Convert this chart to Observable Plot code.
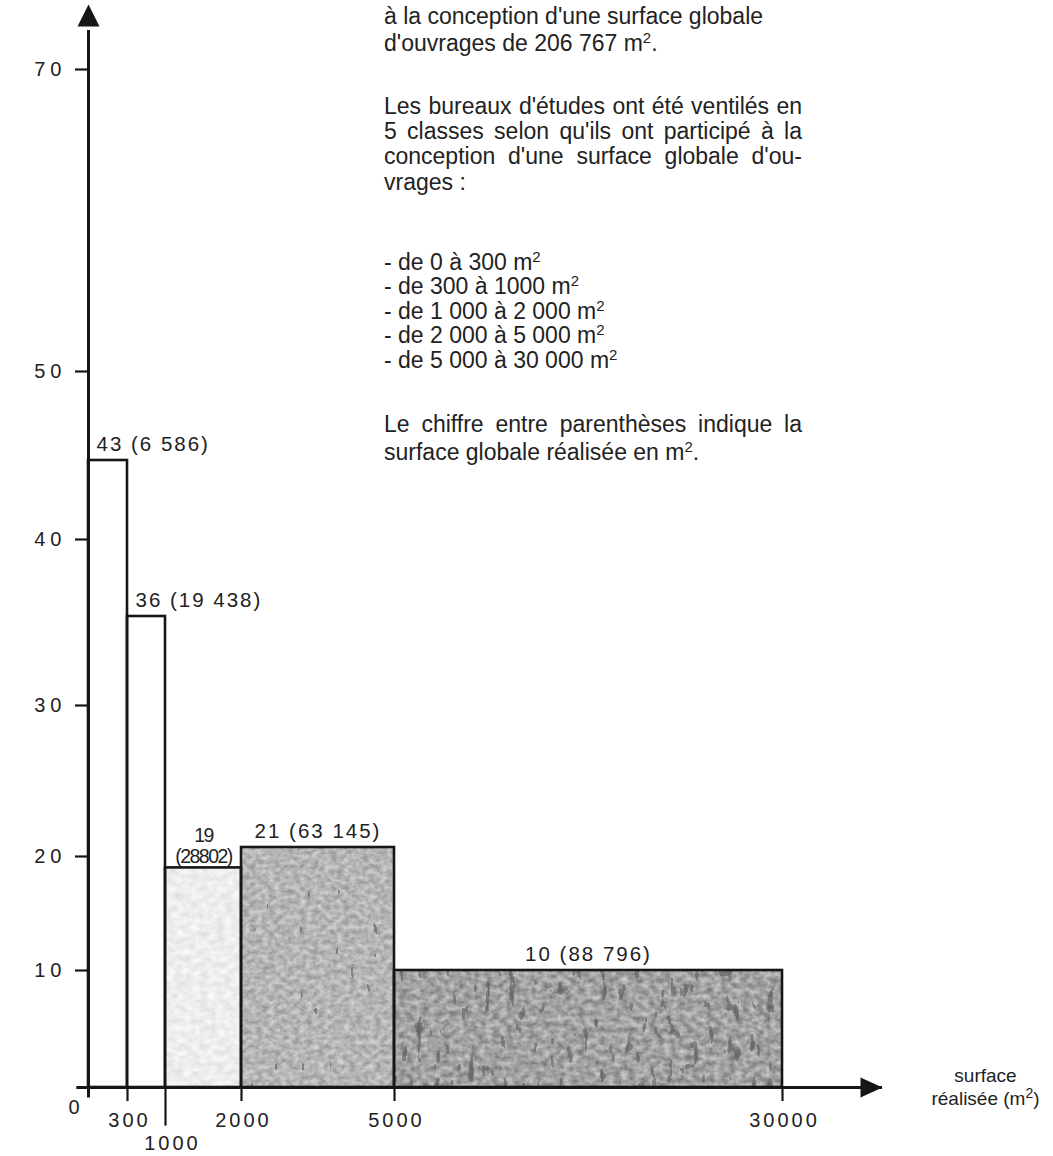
<!DOCTYPE html>
<html>
<head>
<meta charset="utf-8">
<script src="https://cdn.jsdelivr.net/npm/d3@7"></script>
<script src="https://cdn.jsdelivr.net/npm/@observablehq/plot@0.6"></script>
<style>
  html, body { margin: 0; padding: 0; background: #fff; }
  #wrap { position: relative; width: 1053px; height: 1156px; overflow: hidden;
          font-family: "Liberation Sans", Arial, Helvetica, sans-serif; color: #222; }
  #chart { position: absolute; left: 0; top: 0; }
  #notes { position: absolute; left: 384px; top: 0; width: 418px; font-size: 23px; }
  .ln { position: absolute; left: 0; width: 418px; line-height: 23px; white-space: nowrap; }
  .ln.j { text-align: justify; text-align-last: justify; white-space: normal; }
  .sup { font-size: 15px; position: relative; top: -8px; line-height: 0; }
  g.ytl text { letter-spacing: 5px; }
  g.xtl text { letter-spacing: 3px; }
  g.lbl text { letter-spacing: 2px; }
  g.lbl-tight text { letter-spacing: -1.5px; }
</style>
</head>
<body>
<div id="wrap">
  <div id="chart"></div>
  <div id="notes"></div>
</div>
<script>
// ---------- data ----------
const classStart = [0, 300, 1000, 2000, 5000];
const classEnd   = [300, 1000, 2000, 5000, 30000];
const counts     = [43, 36, 19, 21, 10];
const surfaces   = ["6 586", "19 438", "28802", "63 145", "88 796"];
const xTicks     = [0, 300, 1000, 2000, 5000, 30000];
const yTicks     = [10, 20, 30, 40, 50, 70];
const xTitle     = "surface\nréalisée (m²)";

const notesIntro  = ["à la conception d'une surface globale", "d'ouvrages de 206 767 m²."];
const notesMethod = ["Les bureaux d'études ont été ventilés en",
                     "5 classes selon qu'ils ont participé à la",
                     "conception d'une surface globale d'ou-",
                     "vrages :"];
const classLabels = ["- de 0 à 300 m²", "- de 300 à 1000 m²", "- de 1 000 à 2 000 m²",
                     "- de 2 000 à 5 000 m²", "- de 5 000 à 30 000 m²"];
const notesFoot   = ["Le chiffre entre parenthèses indique la", "surface globale réalisée en m²."];

// ---------- styles / layout (not data) ----------
const shades   = ["#ffffff", "#ffffff", "#ececec", "#b5b5b5", "#a4a4a4"];
const textures = [null, null, "tex-light", "tex-mid", "tex-dark"];
const axisEndX = 40000, axisEndY = 75;

const bars = counts.map((c, i) => ({
  start: classStart[i], end: classEnd[i], count: c,
  label: i === 2 ? `${c}\n(${surfaces[i]})` : `${c} (${surfaces[i]})`,
  left: i < 2, tight: i === 2
}));

// hand-drawn, non-uniform axes of the original: piecewise-linear scales
const xScale = {type: "linear", domain: [...xTicks, axisEndX], range: [88, 127, 165, 241, 394, 782, 882], axis: null};
const yScale = {type: "linear", domain: [0, 10, 20, 21, 30, 36, 40, 43, 50, 70, axisEndY],
                range: [1087, 970, 856, 847, 705, 616, 539, 460, 371, 69, 4], axis: null};

const arrowUp = {draw(ctx) { ctx.moveTo(0, 0); ctx.lineTo(11, 22); ctx.lineTo(-11, 22); ctx.closePath(); }};
const arrowRight = {draw(ctx) { ctx.moveTo(0, 0); ctx.lineTo(-22, -10); ctx.lineTo(-22, 10); ctx.closePath(); }};
const ink = "#161616";

const chart = Plot.plot({
  width: 1053, height: 1156,
  marginTop: 0, marginRight: 0, marginBottom: 0, marginLeft: 0,
  x: xScale, y: yScale,
  color: {type: "identity"},
  style: {fontFamily: '"Liberation Sans", Arial, Helvetica, sans-serif', background: "transparent", color: "#222", overflow: "visible"},
  marks: [
    // bar fills
    Plot.rect(bars, {x1: "start", x2: "end", y1: 0, y2: "count", fill: (d, i) => shades[i], className: "barfill"}),
    // bar outlines
    Plot.rect(bars, {x1: "start", x2: "end", y1: 0, y2: "count", fill: "none", stroke: ink, strokeWidth: 2.6}),
    // axes lines
    Plot.ruleY([0], {x1: -90, x2: axisEndX, stroke: ink, strokeWidth: 3}),
    Plot.ruleX([0], {y1: -0.9, y2: 73, stroke: ink, strokeWidth: 3}),
    // ticks
    Plot.ruleY(yTicks, {y: d => d, x1: -100, x2: 0, stroke: ink, strokeWidth: 2.2}),
    Plot.ruleX(xTicks.filter(d => d !== 0), {x: d => d, y1: 0, y2: d => d === 1000 ? -3.3 : -1.2, stroke: ink, strokeWidth: 2.2}),
    // arrow heads
    Plot.dot([{x: 0, y: axisEndY}], {x: "x", y: "y", symbol: arrowUp, r: 10, fill: ink, stroke: "none"}),
    Plot.dot([{x: axisEndX, y: 0}], {x: "x", y: "y", symbol: arrowRight, r: 10, fill: ink, stroke: "none"}),
    // tick labels
    Plot.text(yTicks, {x: 0, y: d => d, dx: -22, text: d => String(d), textAnchor: "end", fontSize: 20, fill: "#222", className: "ytl"}),
    Plot.text(xTicks.filter(d => d !== 0 && d !== 1000), {x: d => d, y: 0, dx: 2, dy: 33, text: d => String(d), fontSize: 20, fill: "#222", className: "xtl"}),
    Plot.text(xTicks.filter(d => d === 1000), {x: d => d, y: 0, dx: 7, dy: 56, text: d => String(d), fontSize: 20, fill: "#222", className: "xtl"}),
    Plot.text(xTicks.filter(d => d === 0), {x: d => d, y: 0, dx: -13, dy: 20, text: d => String(d), fontSize: 20, fill: "#222", className: "xtl"}),
    // x title
    Plot.text([xTitle], {x: axisEndX, y: 0, dx: 103, dy: -1, text: d => d, fontSize: 19, lineHeight: 1.2, fill: "#222", className: "xtitle"}),
    // bar labels
    Plot.text(bars.filter(d => d.left), {x: "start", y: "count", dx: 8, dy: -10, text: "label", textAnchor: "start", lineAnchor: "bottom", fontSize: 20.5, fill: "#222", className: "lbl"}),
    Plot.text(bars.filter(d => !d.left && !d.tight), {x: d => (d.start + d.end) / 2, y: "count", dy: -10, text: "label", lineAnchor: "bottom", fontSize: 20.5, fill: "#222", className: "lbl"}),
    Plot.text(bars.filter(d => d.tight), {x: d => (d.start + d.end) / 2, y: "count", dy: -5, text: "label", lineAnchor: "bottom", lineHeight: 1.05, fontSize: 19.5, fill: "#222", className: "lbl-tight"})
  ]
});

// scanned-paper textures for the shaded bars
chart.insertAdjacentHTML("afterbegin", `
<defs>
  <filter id="tex-light" x="0" y="0" width="1" height="1" color-interpolation-filters="sRGB">
    <feTurbulence type="fractalNoise" baseFrequency="0.12 0.16" numOctaves="2" seed="11" result="n"/>
    <feColorMatrix in="n" type="matrix" values="0.16 0 0 0 0.85  0.16 0 0 0 0.85  0.16 0 0 0 0.85  0 0 0 0 1" result="g"/>
    <feComposite in="g" in2="SourceGraphic" operator="in"/>
  </filter>
  <filter id="tex-mid" x="0" y="0" width="1" height="1" color-interpolation-filters="sRGB">
    <feTurbulence type="fractalNoise" baseFrequency="0.16 0.2" numOctaves="2" seed="5" result="n"/>
    <feColorMatrix in="n" type="matrix" values="0.36 0 0 0 0.53  0.36 0 0 0 0.53  0.36 0 0 0 0.53  0 0 0 0 1" result="g"/>
    <feTurbulence type="fractalNoise" baseFrequency="0.14 0.05" numOctaves="2" seed="17" result="s"/>
    <feColorMatrix in="s" type="matrix" values="0 0 0 0 0.42  0 0 0 0 0.42  0 0 0 0 0.42  1.3 0 0 0 -0.15" result="sa"/>
    <feComponentTransfer in="sa" result="spk"><feFuncA type="discrete" tableValues="0 0 0 0 0 0 0 0.75"/></feComponentTransfer>
    <feMerge result="m"><feMergeNode in="g"/><feMergeNode in="spk"/></feMerge>
    <feComposite in="m" in2="SourceGraphic" operator="in"/>
  </filter>
  <filter id="tex-dark" x="0" y="0" width="1" height="1" color-interpolation-filters="sRGB">
    <feTurbulence type="fractalNoise" baseFrequency="0.14 0.18" numOctaves="2" seed="23" result="n"/>
    <feColorMatrix in="n" type="matrix" values="0.45 0 0 0 0.41  0.45 0 0 0 0.41  0.45 0 0 0 0.41  0 0 0 0 1" result="g"/>
    <feTurbulence type="fractalNoise" baseFrequency="0.12 0.05" numOctaves="2" seed="31" result="s"/>
    <feColorMatrix in="s" type="matrix" values="0 0 0 0 0.38  0 0 0 0 0.38  0 0 0 0 0.38  1.3 0 0 0 -0.12" result="sa"/>
    <feComponentTransfer in="sa" result="spk"><feFuncA type="discrete" tableValues="0 0 0 0 0 0 0.6 0.85"/></feComponentTransfer>
    <feMerge result="m"><feMergeNode in="g"/><feMergeNode in="spk"/></feMerge>
    <feComposite in="m" in2="SourceGraphic" operator="in"/>
  </filter>
</defs>`);
d3.select(chart).selectAll("g.barfill rect").each(function(i) {
  if (textures[i]) this.setAttribute("filter", `url(#${textures[i]})`);
});
// raised "2" in the x title
d3.select(chart).selectAll("g.xtitle tspan").each(function() {
  const t = this.textContent;
  if (t.includes("²")) {
    const [before, after] = t.split("²");
    this.textContent = before;
    const sup = document.createElementNS("http://www.w3.org/2000/svg", "tspan");
    sup.setAttribute("font-size", "14");
    sup.setAttribute("dy", "-7");
    sup.textContent = "2";
    const rest = document.createElementNS("http://www.w3.org/2000/svg", "tspan");
    rest.setAttribute("dy", "7");
    rest.textContent = after;
    this.appendChild(sup);
    this.appendChild(rest);
  }
});
document.getElementById("chart").appendChild(chart);

// ---------- text block (top right) ----------
function rich(s) {
  return s.replace(/&/g, "&amp;").replace(/</g, "&lt;").replace(/²/g, '<span class="sup">2</span>');
}
const blocks = [
  {lines: notesIntro,  baselines: [23, 50],                 justify: [false, false]},
  {lines: notesMethod, baselines: [113, 138, 163, 189],      justify: [true, true, true, false]},
  {lines: classLabels, baselines: [269, 293, 318, 342, 367], justify: [false, false, false, false, false]},
  {lines: notesFoot,   baselines: [431, 459],                justify: [true, false]}
];
const notes = document.getElementById("notes");
for (const b of blocks) {
  b.lines.forEach((t, i) => {
    const div = document.createElement("div");
    div.className = "ln" + (b.justify[i] ? " j" : "");
    div.style.top = (b.baselines[i] - 18) + "px";
    div.innerHTML = rich(t);
    notes.appendChild(div);
  });
}
</script>
</body>
</html>
